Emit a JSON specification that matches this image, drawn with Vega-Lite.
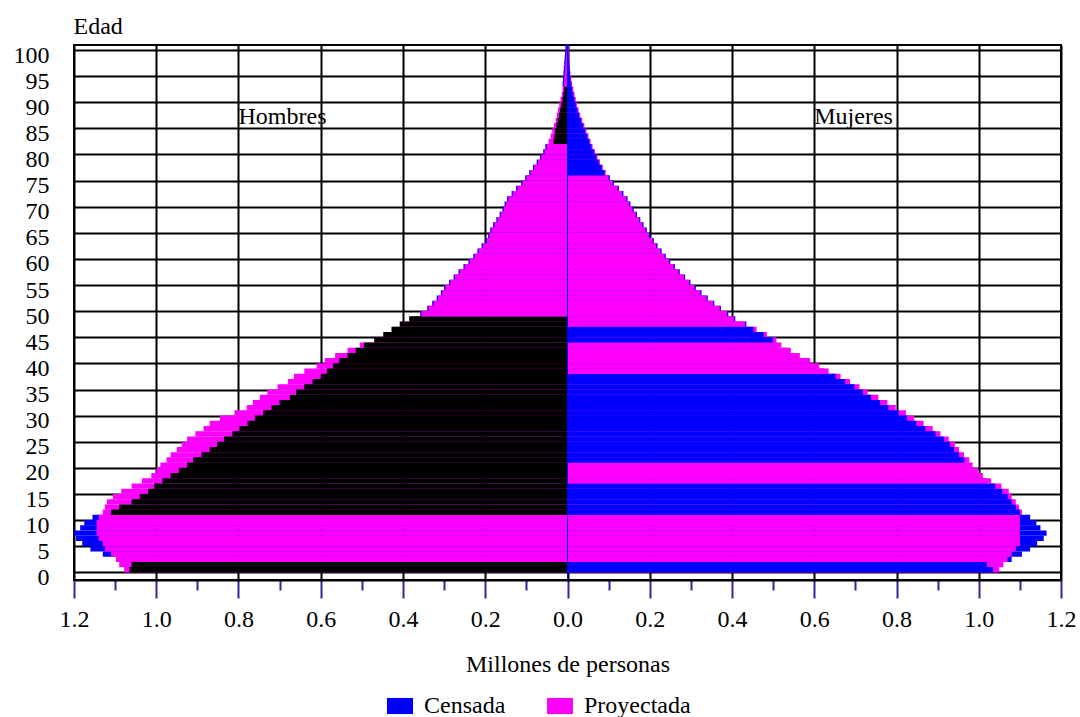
{
"$schema": "https://vega.github.io/schema/vega-lite/v6.json",
"autosize": "none",
"padding": {"left": 74, "top": 45, "right": 19, "bottom": 137},
"width": 987,
"height": 535,
"background": "white",
"config": {"view": {"stroke": "black", "strokeWidth": 2}, "font": "Liberation Serif",
 "axis": {"labelFont": "Liberation Serif", "titleFont": "Liberation Serif", "labelOverlap": false},
 "legend": {"labelFont": "Liberation Serif"}},
"layer": [
{
"data": {"values": [
{"edad":0,"sexo":"Hombres","serie":"Proyectada","valor":-1.078,"frente":0},{"edad":0,"sexo":"Hombres","serie":"Censada","valor":-1.065,"frente":1},
{"edad":1,"sexo":"Hombres","serie":"Proyectada","valor":-1.09,"frente":0},{"edad":1,"sexo":"Hombres","serie":"Censada","valor":-1.06,"frente":1},
{"edad":2,"sexo":"Hombres","serie":"Censada","valor":-1.09,"frente":0},{"edad":2,"sexo":"Hombres","serie":"Proyectada","valor":-1.098,"frente":1},
{"edad":3,"sexo":"Hombres","serie":"Censada","valor":-1.13,"frente":0},{"edad":3,"sexo":"Hombres","serie":"Proyectada","valor":-1.11,"frente":1},
{"edad":4,"sexo":"Hombres","serie":"Censada","valor":-1.16,"frente":0},{"edad":4,"sexo":"Hombres","serie":"Proyectada","valor":-1.125,"frente":1},
{"edad":5,"sexo":"Hombres","serie":"Censada","valor":-1.18,"frente":0},{"edad":5,"sexo":"Hombres","serie":"Proyectada","valor":-1.13,"frente":1},
{"edad":6,"sexo":"Hombres","serie":"Censada","valor":-1.195,"frente":0},{"edad":6,"sexo":"Hombres","serie":"Proyectada","valor":-1.14,"frente":1},
{"edad":7,"sexo":"Hombres","serie":"Censada","valor":-1.2,"frente":0},{"edad":7,"sexo":"Hombres","serie":"Proyectada","valor":-1.145,"frente":1},
{"edad":8,"sexo":"Hombres","serie":"Censada","valor":-1.185,"frente":0},{"edad":8,"sexo":"Hombres","serie":"Proyectada","valor":-1.145,"frente":1},
{"edad":9,"sexo":"Hombres","serie":"Censada","valor":-1.175,"frente":0},{"edad":9,"sexo":"Hombres","serie":"Proyectada","valor":-1.145,"frente":1},
{"edad":10,"sexo":"Hombres","serie":"Censada","valor":-1.155,"frente":0},{"edad":10,"sexo":"Hombres","serie":"Proyectada","valor":-1.14,"frente":1},
{"edad":11,"sexo":"Hombres","serie":"Proyectada","valor":-1.13,"frente":0},{"edad":11,"sexo":"Hombres","serie":"Censada","valor":-1.11,"frente":1},
{"edad":12,"sexo":"Hombres","serie":"Proyectada","valor":-1.125,"frente":0},{"edad":12,"sexo":"Hombres","serie":"Censada","valor":-1.09,"frente":1},
{"edad":13,"sexo":"Hombres","serie":"Proyectada","valor":-1.12,"frente":0},{"edad":13,"sexo":"Hombres","serie":"Censada","valor":-1.06,"frente":1},
{"edad":14,"sexo":"Hombres","serie":"Proyectada","valor":-1.105,"frente":0},{"edad":14,"sexo":"Hombres","serie":"Censada","valor":-1.04,"frente":1},
{"edad":15,"sexo":"Hombres","serie":"Proyectada","valor":-1.085,"frente":0},{"edad":15,"sexo":"Hombres","serie":"Censada","valor":-1.02,"frente":1},
{"edad":16,"sexo":"Hombres","serie":"Proyectada","valor":-1.06,"frente":0},{"edad":16,"sexo":"Hombres","serie":"Censada","valor":-1.005,"frente":1},
{"edad":17,"sexo":"Hombres","serie":"Proyectada","valor":-1.035,"frente":0},{"edad":17,"sexo":"Hombres","serie":"Censada","valor":-0.985,"frente":1},
{"edad":18,"sexo":"Hombres","serie":"Proyectada","valor":-1.012,"frente":0},{"edad":18,"sexo":"Hombres","serie":"Censada","valor":-0.965,"frente":1},
{"edad":19,"sexo":"Hombres","serie":"Proyectada","valor":-1.0,"frente":0},{"edad":19,"sexo":"Hombres","serie":"Censada","valor":-0.945,"frente":1},
{"edad":20,"sexo":"Hombres","serie":"Proyectada","valor":-0.99,"frente":0},{"edad":20,"sexo":"Hombres","serie":"Censada","valor":-0.925,"frente":1},
{"edad":21,"sexo":"Hombres","serie":"Proyectada","valor":-0.975,"frente":0},{"edad":21,"sexo":"Hombres","serie":"Censada","valor":-0.91,"frente":1},
{"edad":22,"sexo":"Hombres","serie":"Proyectada","valor":-0.965,"frente":0},{"edad":22,"sexo":"Hombres","serie":"Censada","valor":-0.89,"frente":1},
{"edad":23,"sexo":"Hombres","serie":"Proyectada","valor":-0.95,"frente":0},{"edad":23,"sexo":"Hombres","serie":"Censada","valor":-0.87,"frente":1},
{"edad":24,"sexo":"Hombres","serie":"Proyectada","valor":-0.938,"frente":0},{"edad":24,"sexo":"Hombres","serie":"Censada","valor":-0.852,"frente":1},
{"edad":25,"sexo":"Hombres","serie":"Proyectada","valor":-0.925,"frente":0},{"edad":25,"sexo":"Hombres","serie":"Censada","valor":-0.835,"frente":1},
{"edad":26,"sexo":"Hombres","serie":"Proyectada","valor":-0.905,"frente":0},{"edad":26,"sexo":"Hombres","serie":"Censada","valor":-0.815,"frente":1},
{"edad":27,"sexo":"Hombres","serie":"Proyectada","valor":-0.885,"frente":0},{"edad":27,"sexo":"Hombres","serie":"Censada","valor":-0.798,"frente":1},
{"edad":28,"sexo":"Hombres","serie":"Proyectada","valor":-0.87,"frente":0},{"edad":28,"sexo":"Hombres","serie":"Censada","valor":-0.778,"frente":1},
{"edad":29,"sexo":"Hombres","serie":"Proyectada","valor":-0.845,"frente":0},{"edad":29,"sexo":"Hombres","serie":"Censada","valor":-0.76,"frente":1},
{"edad":30,"sexo":"Hombres","serie":"Proyectada","valor":-0.81,"frente":0},{"edad":30,"sexo":"Hombres","serie":"Censada","valor":-0.74,"frente":1},
{"edad":31,"sexo":"Hombres","serie":"Proyectada","valor":-0.78,"frente":0},{"edad":31,"sexo":"Hombres","serie":"Censada","valor":-0.72,"frente":1},
{"edad":32,"sexo":"Hombres","serie":"Proyectada","valor":-0.765,"frente":0},{"edad":32,"sexo":"Hombres","serie":"Censada","valor":-0.7,"frente":1},
{"edad":33,"sexo":"Hombres","serie":"Proyectada","valor":-0.748,"frente":0},{"edad":33,"sexo":"Hombres","serie":"Censada","valor":-0.675,"frente":1},
{"edad":34,"sexo":"Hombres","serie":"Proyectada","valor":-0.73,"frente":0},{"edad":34,"sexo":"Hombres","serie":"Censada","valor":-0.66,"frente":1},
{"edad":35,"sexo":"Hombres","serie":"Proyectada","valor":-0.705,"frente":0},{"edad":35,"sexo":"Hombres","serie":"Censada","valor":-0.64,"frente":1},
{"edad":36,"sexo":"Hombres","serie":"Proyectada","valor":-0.68,"frente":0},{"edad":36,"sexo":"Hombres","serie":"Censada","valor":-0.62,"frente":1},
{"edad":37,"sexo":"Hombres","serie":"Proyectada","valor":-0.665,"frente":0},{"edad":37,"sexo":"Hombres","serie":"Censada","valor":-0.6,"frente":1},
{"edad":38,"sexo":"Hombres","serie":"Proyectada","valor":-0.64,"frente":0},{"edad":38,"sexo":"Hombres","serie":"Censada","valor":-0.585,"frente":1},
{"edad":39,"sexo":"Hombres","serie":"Proyectada","valor":-0.61,"frente":0},{"edad":39,"sexo":"Hombres","serie":"Censada","valor":-0.57,"frente":1},
{"edad":40,"sexo":"Hombres","serie":"Proyectada","valor":-0.59,"frente":0},{"edad":40,"sexo":"Hombres","serie":"Censada","valor":-0.555,"frente":1},
{"edad":41,"sexo":"Hombres","serie":"Proyectada","valor":-0.565,"frente":0},{"edad":41,"sexo":"Hombres","serie":"Censada","valor":-0.535,"frente":1},
{"edad":42,"sexo":"Hombres","serie":"Proyectada","valor":-0.535,"frente":0},{"edad":42,"sexo":"Hombres","serie":"Censada","valor":-0.515,"frente":1},
{"edad":43,"sexo":"Hombres","serie":"Proyectada","valor":-0.505,"frente":0},{"edad":43,"sexo":"Hombres","serie":"Censada","valor":-0.495,"frente":1},
{"edad":44,"sexo":"Hombres","serie":"Proyectada","valor":-0.468,"frente":0},{"edad":44,"sexo":"Hombres","serie":"Censada","valor":-0.47,"frente":1},
{"edad":45,"sexo":"Hombres","serie":"Proyectada","valor":-0.445,"frente":0},{"edad":45,"sexo":"Hombres","serie":"Censada","valor":-0.448,"frente":1},
{"edad":46,"sexo":"Hombres","serie":"Proyectada","valor":-0.424,"frente":0},{"edad":46,"sexo":"Hombres","serie":"Censada","valor":-0.428,"frente":1},
{"edad":47,"sexo":"Hombres","serie":"Proyectada","valor":-0.404,"frente":0},{"edad":47,"sexo":"Hombres","serie":"Censada","valor":-0.408,"frente":1},
{"edad":48,"sexo":"Hombres","serie":"Proyectada","valor":-0.38,"frente":0},{"edad":48,"sexo":"Hombres","serie":"Censada","valor":-0.385,"frente":1},
{"edad":49,"sexo":"Hombres","serie":"Censada","valor":-0.358,"frente":0},{"edad":49,"sexo":"Hombres","serie":"Proyectada","valor":-0.355,"frente":1},
{"edad":50,"sexo":"Hombres","serie":"Censada","valor":-0.341,"frente":0},{"edad":50,"sexo":"Hombres","serie":"Proyectada","valor":-0.338,"frente":1},
{"edad":51,"sexo":"Hombres","serie":"Censada","valor":-0.329,"frente":0},{"edad":51,"sexo":"Hombres","serie":"Proyectada","valor":-0.326,"frente":1},
{"edad":52,"sexo":"Hombres","serie":"Censada","valor":-0.318,"frente":0},{"edad":52,"sexo":"Hombres","serie":"Proyectada","valor":-0.315,"frente":1},
{"edad":53,"sexo":"Hombres","serie":"Censada","valor":-0.308,"frente":0},{"edad":53,"sexo":"Hombres","serie":"Proyectada","valor":-0.305,"frente":1},
{"edad":54,"sexo":"Hombres","serie":"Censada","valor":-0.3,"frente":0},{"edad":54,"sexo":"Hombres","serie":"Proyectada","valor":-0.297,"frente":1},
{"edad":55,"sexo":"Hombres","serie":"Censada","valor":-0.288,"frente":0},{"edad":55,"sexo":"Hombres","serie":"Proyectada","valor":-0.285,"frente":1},
{"edad":56,"sexo":"Hombres","serie":"Censada","valor":-0.277,"frente":0},{"edad":56,"sexo":"Hombres","serie":"Proyectada","valor":-0.274,"frente":1},
{"edad":57,"sexo":"Hombres","serie":"Censada","valor":-0.265,"frente":0},{"edad":57,"sexo":"Hombres","serie":"Proyectada","valor":-0.262,"frente":1},
{"edad":58,"sexo":"Hombres","serie":"Censada","valor":-0.253,"frente":0},{"edad":58,"sexo":"Hombres","serie":"Proyectada","valor":-0.25,"frente":1},
{"edad":59,"sexo":"Hombres","serie":"Censada","valor":-0.241,"frente":0},{"edad":59,"sexo":"Hombres","serie":"Proyectada","valor":-0.238,"frente":1},
{"edad":60,"sexo":"Hombres","serie":"Censada","valor":-0.229,"frente":0},{"edad":60,"sexo":"Hombres","serie":"Proyectada","valor":-0.226,"frente":1},
{"edad":61,"sexo":"Hombres","serie":"Censada","valor":-0.219,"frente":0},{"edad":61,"sexo":"Hombres","serie":"Proyectada","valor":-0.216,"frente":1},
{"edad":62,"sexo":"Hombres","serie":"Censada","valor":-0.209,"frente":0},{"edad":62,"sexo":"Hombres","serie":"Proyectada","valor":-0.206,"frente":1},
{"edad":63,"sexo":"Hombres","serie":"Censada","valor":-0.199,"frente":0},{"edad":63,"sexo":"Hombres","serie":"Proyectada","valor":-0.196,"frente":1},
{"edad":64,"sexo":"Hombres","serie":"Censada","valor":-0.193,"frente":0},{"edad":64,"sexo":"Hombres","serie":"Proyectada","valor":-0.19,"frente":1},
{"edad":65,"sexo":"Hombres","serie":"Censada","valor":-0.188,"frente":0},{"edad":65,"sexo":"Hombres","serie":"Proyectada","valor":-0.185,"frente":1},
{"edad":66,"sexo":"Hombres","serie":"Censada","valor":-0.181,"frente":0},{"edad":66,"sexo":"Hombres","serie":"Proyectada","valor":-0.178,"frente":1},
{"edad":67,"sexo":"Hombres","serie":"Censada","valor":-0.173,"frente":0},{"edad":67,"sexo":"Hombres","serie":"Proyectada","valor":-0.17,"frente":1},
{"edad":68,"sexo":"Hombres","serie":"Censada","valor":-0.165,"frente":0},{"edad":68,"sexo":"Hombres","serie":"Proyectada","valor":-0.162,"frente":1},
{"edad":69,"sexo":"Hombres","serie":"Censada","valor":-0.158,"frente":0},{"edad":69,"sexo":"Hombres","serie":"Proyectada","valor":-0.155,"frente":1},
{"edad":70,"sexo":"Hombres","serie":"Censada","valor":-0.153,"frente":0},{"edad":70,"sexo":"Hombres","serie":"Proyectada","valor":-0.15,"frente":1},
{"edad":71,"sexo":"Hombres","serie":"Censada","valor":-0.147,"frente":0},{"edad":71,"sexo":"Hombres","serie":"Proyectada","valor":-0.144,"frente":1},
{"edad":72,"sexo":"Hombres","serie":"Censada","valor":-0.136,"frente":0},{"edad":72,"sexo":"Hombres","serie":"Proyectada","valor":-0.133,"frente":1},
{"edad":73,"sexo":"Hombres","serie":"Censada","valor":-0.125,"frente":0},{"edad":73,"sexo":"Hombres","serie":"Proyectada","valor":-0.122,"frente":1},
{"edad":74,"sexo":"Hombres","serie":"Censada","valor":-0.113,"frente":0},{"edad":74,"sexo":"Hombres","serie":"Proyectada","valor":-0.11,"frente":1},
{"edad":75,"sexo":"Hombres","serie":"Censada","valor":-0.103,"frente":0},{"edad":75,"sexo":"Hombres","serie":"Proyectada","valor":-0.1,"frente":1},
{"edad":76,"sexo":"Hombres","serie":"Censada","valor":-0.093,"frente":0},{"edad":76,"sexo":"Hombres","serie":"Proyectada","valor":-0.09,"frente":1},
{"edad":77,"sexo":"Hombres","serie":"Censada","valor":-0.084,"frente":0},{"edad":77,"sexo":"Hombres","serie":"Proyectada","valor":-0.081,"frente":1},
{"edad":78,"sexo":"Hombres","serie":"Censada","valor":-0.075,"frente":0},{"edad":78,"sexo":"Hombres","serie":"Proyectada","valor":-0.072,"frente":1},
{"edad":79,"sexo":"Hombres","serie":"Censada","valor":-0.067,"frente":0},{"edad":79,"sexo":"Hombres","serie":"Proyectada","valor":-0.064,"frente":1},
{"edad":80,"sexo":"Hombres","serie":"Censada","valor":-0.059,"frente":0},{"edad":80,"sexo":"Hombres","serie":"Proyectada","valor":-0.056,"frente":1},
{"edad":81,"sexo":"Hombres","serie":"Censada","valor":-0.054,"frente":0},{"edad":81,"sexo":"Hombres","serie":"Proyectada","valor":-0.051,"frente":1},
{"edad":82,"sexo":"Hombres","serie":"Proyectada","valor":-0.046,"frente":0},{"edad":82,"sexo":"Hombres","serie":"Censada","valor":-0.034,"frente":1},
{"edad":83,"sexo":"Hombres","serie":"Proyectada","valor":-0.041,"frente":0},{"edad":83,"sexo":"Hombres","serie":"Censada","valor":-0.032,"frente":1},
{"edad":84,"sexo":"Hombres","serie":"Proyectada","valor":-0.037,"frente":0},{"edad":84,"sexo":"Hombres","serie":"Censada","valor":-0.03,"frente":1},
{"edad":85,"sexo":"Hombres","serie":"Proyectada","valor":-0.033,"frente":0},{"edad":85,"sexo":"Hombres","serie":"Censada","valor":-0.027,"frente":1},
{"edad":86,"sexo":"Hombres","serie":"Proyectada","valor":-0.029,"frente":0},{"edad":86,"sexo":"Hombres","serie":"Censada","valor":-0.024,"frente":1},
{"edad":87,"sexo":"Hombres","serie":"Proyectada","valor":-0.026,"frente":0},{"edad":87,"sexo":"Hombres","serie":"Censada","valor":-0.021,"frente":1},
{"edad":88,"sexo":"Hombres","serie":"Proyectada","valor":-0.023,"frente":0},{"edad":88,"sexo":"Hombres","serie":"Censada","valor":-0.018,"frente":1},
{"edad":89,"sexo":"Hombres","serie":"Proyectada","valor":-0.02,"frente":0},{"edad":89,"sexo":"Hombres","serie":"Censada","valor":-0.015,"frente":1},
{"edad":90,"sexo":"Hombres","serie":"Proyectada","valor":-0.017,"frente":0},{"edad":90,"sexo":"Hombres","serie":"Censada","valor":-0.012,"frente":1},
{"edad":91,"sexo":"Hombres","serie":"Proyectada","valor":-0.014,"frente":0},{"edad":91,"sexo":"Hombres","serie":"Censada","valor":-0.01,"frente":1},
{"edad":92,"sexo":"Hombres","serie":"Proyectada","valor":-0.012,"frente":0},{"edad":92,"sexo":"Hombres","serie":"Censada","valor":-0.008,"frente":1},
{"edad":93,"sexo":"Hombres","serie":"Censada","valor":-0.012,"frente":0},{"edad":93,"sexo":"Hombres","serie":"Proyectada","valor":-0.009,"frente":1},
{"edad":94,"sexo":"Hombres","serie":"Censada","valor":-0.011,"frente":0},{"edad":94,"sexo":"Hombres","serie":"Proyectada","valor":-0.008,"frente":1},
{"edad":95,"sexo":"Hombres","serie":"Censada","valor":-0.01,"frente":0},{"edad":95,"sexo":"Hombres","serie":"Proyectada","valor":-0.007,"frente":1},
{"edad":96,"sexo":"Hombres","serie":"Censada","valor":-0.009,"frente":0},{"edad":96,"sexo":"Hombres","serie":"Proyectada","valor":-0.006,"frente":1},
{"edad":97,"sexo":"Hombres","serie":"Censada","valor":-0.008,"frente":0},{"edad":97,"sexo":"Hombres","serie":"Proyectada","valor":-0.005,"frente":1},
{"edad":98,"sexo":"Hombres","serie":"Censada","valor":-0.007,"frente":0},{"edad":98,"sexo":"Hombres","serie":"Proyectada","valor":-0.004,"frente":1},
{"edad":99,"sexo":"Hombres","serie":"Censada","valor":-0.006,"frente":0},{"edad":99,"sexo":"Hombres","serie":"Proyectada","valor":-0.003,"frente":1},
{"edad":100,"sexo":"Hombres","serie":"Censada","valor":-0.005,"frente":0},{"edad":100,"sexo":"Hombres","serie":"Proyectada","valor":-0.002,"frente":1},
{"edad":0,"sexo":"Mujeres","serie":"Proyectada","valor":1.05,"frente":0},{"edad":0,"sexo":"Mujeres","serie":"Censada","valor":1.035,"frente":1},
{"edad":1,"sexo":"Mujeres","serie":"Proyectada","valor":1.06,"frente":0},{"edad":1,"sexo":"Mujeres","serie":"Censada","valor":1.02,"frente":1},
{"edad":2,"sexo":"Mujeres","serie":"Censada","valor":1.08,"frente":0},{"edad":2,"sexo":"Mujeres","serie":"Proyectada","valor":1.07,"frente":1},
{"edad":3,"sexo":"Mujeres","serie":"Censada","valor":1.105,"frente":0},{"edad":3,"sexo":"Mujeres","serie":"Proyectada","valor":1.08,"frente":1},
{"edad":4,"sexo":"Mujeres","serie":"Censada","valor":1.125,"frente":0},{"edad":4,"sexo":"Mujeres","serie":"Proyectada","valor":1.09,"frente":1},
{"edad":5,"sexo":"Mujeres","serie":"Censada","valor":1.142,"frente":0},{"edad":5,"sexo":"Mujeres","serie":"Proyectada","valor":1.1,"frente":1},
{"edad":6,"sexo":"Mujeres","serie":"Censada","valor":1.158,"frente":0},{"edad":6,"sexo":"Mujeres","serie":"Proyectada","valor":1.1,"frente":1},
{"edad":7,"sexo":"Mujeres","serie":"Censada","valor":1.165,"frente":0},{"edad":7,"sexo":"Mujeres","serie":"Proyectada","valor":1.1,"frente":1},
{"edad":8,"sexo":"Mujeres","serie":"Censada","valor":1.15,"frente":0},{"edad":8,"sexo":"Mujeres","serie":"Proyectada","valor":1.1,"frente":1},
{"edad":9,"sexo":"Mujeres","serie":"Censada","valor":1.14,"frente":0},{"edad":9,"sexo":"Mujeres","serie":"Proyectada","valor":1.1,"frente":1},
{"edad":10,"sexo":"Mujeres","serie":"Censada","valor":1.125,"frente":0},{"edad":10,"sexo":"Mujeres","serie":"Proyectada","valor":1.1,"frente":1},
{"edad":11,"sexo":"Mujeres","serie":"Proyectada","valor":1.105,"frente":0},{"edad":11,"sexo":"Mujeres","serie":"Censada","valor":1.1,"frente":1},
{"edad":12,"sexo":"Mujeres","serie":"Proyectada","valor":1.098,"frente":0},{"edad":12,"sexo":"Mujeres","serie":"Censada","valor":1.09,"frente":1},
{"edad":13,"sexo":"Mujeres","serie":"Proyectada","valor":1.09,"frente":0},{"edad":13,"sexo":"Mujeres","serie":"Censada","valor":1.08,"frente":1},
{"edad":14,"sexo":"Mujeres","serie":"Proyectada","valor":1.08,"frente":0},{"edad":14,"sexo":"Mujeres","serie":"Censada","valor":1.07,"frente":1},
{"edad":15,"sexo":"Mujeres","serie":"Proyectada","valor":1.073,"frente":0},{"edad":15,"sexo":"Mujeres","serie":"Censada","valor":1.057,"frente":1},
{"edad":16,"sexo":"Mujeres","serie":"Proyectada","valor":1.055,"frente":0},{"edad":16,"sexo":"Mujeres","serie":"Censada","valor":1.04,"frente":1},
{"edad":17,"sexo":"Mujeres","serie":"Censada","valor":1.02,"frente":0},{"edad":17,"sexo":"Mujeres","serie":"Proyectada","valor":1.03,"frente":1},
{"edad":18,"sexo":"Mujeres","serie":"Censada","valor":1.0,"frente":0},{"edad":18,"sexo":"Mujeres","serie":"Proyectada","valor":1.01,"frente":1},
{"edad":19,"sexo":"Mujeres","serie":"Censada","valor":0.99,"frente":0},{"edad":19,"sexo":"Mujeres","serie":"Proyectada","valor":0.998,"frente":1},
{"edad":20,"sexo":"Mujeres","serie":"Censada","valor":0.975,"frente":0},{"edad":20,"sexo":"Mujeres","serie":"Proyectada","valor":0.985,"frente":1},
{"edad":21,"sexo":"Mujeres","serie":"Proyectada","valor":0.977,"frente":0},{"edad":21,"sexo":"Mujeres","serie":"Censada","valor":0.965,"frente":1},
{"edad":22,"sexo":"Mujeres","serie":"Proyectada","valor":0.964,"frente":0},{"edad":22,"sexo":"Mujeres","serie":"Censada","valor":0.952,"frente":1},
{"edad":23,"sexo":"Mujeres","serie":"Proyectada","valor":0.952,"frente":0},{"edad":23,"sexo":"Mujeres","serie":"Censada","valor":0.94,"frente":1},
{"edad":24,"sexo":"Mujeres","serie":"Proyectada","valor":0.942,"frente":0},{"edad":24,"sexo":"Mujeres","serie":"Censada","valor":0.93,"frente":1},
{"edad":25,"sexo":"Mujeres","serie":"Proyectada","valor":0.927,"frente":0},{"edad":25,"sexo":"Mujeres","serie":"Censada","valor":0.915,"frente":1},
{"edad":26,"sexo":"Mujeres","serie":"Proyectada","valor":0.907,"frente":0},{"edad":26,"sexo":"Mujeres","serie":"Censada","valor":0.895,"frente":1},
{"edad":27,"sexo":"Mujeres","serie":"Proyectada","valor":0.888,"frente":0},{"edad":27,"sexo":"Mujeres","serie":"Censada","valor":0.87,"frente":1},
{"edad":28,"sexo":"Mujeres","serie":"Proyectada","valor":0.866,"frente":0},{"edad":28,"sexo":"Mujeres","serie":"Censada","valor":0.848,"frente":1},
{"edad":29,"sexo":"Mujeres","serie":"Proyectada","valor":0.843,"frente":0},{"edad":29,"sexo":"Mujeres","serie":"Censada","valor":0.825,"frente":1},
{"edad":30,"sexo":"Mujeres","serie":"Proyectada","valor":0.823,"frente":0},{"edad":30,"sexo":"Mujeres","serie":"Censada","valor":0.805,"frente":1},
{"edad":31,"sexo":"Mujeres","serie":"Proyectada","valor":0.798,"frente":0},{"edad":31,"sexo":"Mujeres","serie":"Censada","valor":0.78,"frente":1},
{"edad":32,"sexo":"Mujeres","serie":"Proyectada","valor":0.778,"frente":0},{"edad":32,"sexo":"Mujeres","serie":"Censada","valor":0.76,"frente":1},
{"edad":33,"sexo":"Mujeres","serie":"Proyectada","valor":0.756,"frente":0},{"edad":33,"sexo":"Mujeres","serie":"Censada","valor":0.738,"frente":1},
{"edad":34,"sexo":"Mujeres","serie":"Proyectada","valor":0.73,"frente":0},{"edad":34,"sexo":"Mujeres","serie":"Censada","valor":0.718,"frente":1},
{"edad":35,"sexo":"Mujeres","serie":"Proyectada","valor":0.71,"frente":0},{"edad":35,"sexo":"Mujeres","serie":"Censada","valor":0.698,"frente":1},
{"edad":36,"sexo":"Mujeres","serie":"Proyectada","valor":0.687,"frente":0},{"edad":36,"sexo":"Mujeres","serie":"Censada","valor":0.675,"frente":1},
{"edad":37,"sexo":"Mujeres","serie":"Proyectada","valor":0.664,"frente":0},{"edad":37,"sexo":"Mujeres","serie":"Censada","valor":0.652,"frente":1},
{"edad":38,"sexo":"Mujeres","serie":"Censada","valor":0.625,"frente":0},{"edad":38,"sexo":"Mujeres","serie":"Proyectada","valor":0.635,"frente":1},
{"edad":39,"sexo":"Mujeres","serie":"Censada","valor":0.602,"frente":0},{"edad":39,"sexo":"Mujeres","serie":"Proyectada","valor":0.612,"frente":1},
{"edad":40,"sexo":"Mujeres","serie":"Censada","valor":0.58,"frente":0},{"edad":40,"sexo":"Mujeres","serie":"Proyectada","valor":0.59,"frente":1},
{"edad":41,"sexo":"Mujeres","serie":"Censada","valor":0.555,"frente":0},{"edad":41,"sexo":"Mujeres","serie":"Proyectada","valor":0.565,"frente":1},
{"edad":42,"sexo":"Mujeres","serie":"Censada","valor":0.533,"frente":0},{"edad":42,"sexo":"Mujeres","serie":"Proyectada","valor":0.543,"frente":1},
{"edad":43,"sexo":"Mujeres","serie":"Censada","valor":0.51,"frente":0},{"edad":43,"sexo":"Mujeres","serie":"Proyectada","valor":0.52,"frente":1},
{"edad":44,"sexo":"Mujeres","serie":"Proyectada","valor":0.508,"frente":0},{"edad":44,"sexo":"Mujeres","serie":"Censada","valor":0.5,"frente":1},
{"edad":45,"sexo":"Mujeres","serie":"Proyectada","valor":0.485,"frente":0},{"edad":45,"sexo":"Mujeres","serie":"Censada","valor":0.477,"frente":1},
{"edad":46,"sexo":"Mujeres","serie":"Proyectada","valor":0.46,"frente":0},{"edad":46,"sexo":"Mujeres","serie":"Censada","valor":0.452,"frente":1},
{"edad":47,"sexo":"Mujeres","serie":"Censada","valor":0.435,"frente":0},{"edad":47,"sexo":"Mujeres","serie":"Proyectada","valor":0.432,"frente":1},
{"edad":48,"sexo":"Mujeres","serie":"Censada","valor":0.408,"frente":0},{"edad":48,"sexo":"Mujeres","serie":"Proyectada","valor":0.405,"frente":1},
{"edad":49,"sexo":"Mujeres","serie":"Censada","valor":0.391,"frente":0},{"edad":49,"sexo":"Mujeres","serie":"Proyectada","valor":0.388,"frente":1},
{"edad":50,"sexo":"Mujeres","serie":"Censada","valor":0.373,"frente":0},{"edad":50,"sexo":"Mujeres","serie":"Proyectada","valor":0.37,"frente":1},
{"edad":51,"sexo":"Mujeres","serie":"Censada","valor":0.357,"frente":0},{"edad":51,"sexo":"Mujeres","serie":"Proyectada","valor":0.354,"frente":1},
{"edad":52,"sexo":"Mujeres","serie":"Censada","valor":0.341,"frente":0},{"edad":52,"sexo":"Mujeres","serie":"Proyectada","valor":0.338,"frente":1},
{"edad":53,"sexo":"Mujeres","serie":"Censada","valor":0.326,"frente":0},{"edad":53,"sexo":"Mujeres","serie":"Proyectada","valor":0.323,"frente":1},
{"edad":54,"sexo":"Mujeres","serie":"Censada","valor":0.312,"frente":0},{"edad":54,"sexo":"Mujeres","serie":"Proyectada","valor":0.309,"frente":1},
{"edad":55,"sexo":"Mujeres","serie":"Censada","valor":0.299,"frente":0},{"edad":55,"sexo":"Mujeres","serie":"Proyectada","valor":0.296,"frente":1},
{"edad":56,"sexo":"Mujeres","serie":"Censada","valor":0.286,"frente":0},{"edad":56,"sexo":"Mujeres","serie":"Proyectada","valor":0.283,"frente":1},
{"edad":57,"sexo":"Mujeres","serie":"Censada","valor":0.273,"frente":0},{"edad":57,"sexo":"Mujeres","serie":"Proyectada","valor":0.27,"frente":1},
{"edad":58,"sexo":"Mujeres","serie":"Censada","valor":0.261,"frente":0},{"edad":58,"sexo":"Mujeres","serie":"Proyectada","valor":0.258,"frente":1},
{"edad":59,"sexo":"Mujeres","serie":"Censada","valor":0.25,"frente":0},{"edad":59,"sexo":"Mujeres","serie":"Proyectada","valor":0.247,"frente":1},
{"edad":60,"sexo":"Mujeres","serie":"Censada","valor":0.239,"frente":0},{"edad":60,"sexo":"Mujeres","serie":"Proyectada","valor":0.236,"frente":1},
{"edad":61,"sexo":"Mujeres","serie":"Censada","valor":0.229,"frente":0},{"edad":61,"sexo":"Mujeres","serie":"Proyectada","valor":0.226,"frente":1},
{"edad":62,"sexo":"Mujeres","serie":"Censada","valor":0.219,"frente":0},{"edad":62,"sexo":"Mujeres","serie":"Proyectada","valor":0.216,"frente":1},
{"edad":63,"sexo":"Mujeres","serie":"Censada","valor":0.21,"frente":0},{"edad":63,"sexo":"Mujeres","serie":"Proyectada","valor":0.207,"frente":1},
{"edad":64,"sexo":"Mujeres","serie":"Censada","valor":0.201,"frente":0},{"edad":64,"sexo":"Mujeres","serie":"Proyectada","valor":0.198,"frente":1},
{"edad":65,"sexo":"Mujeres","serie":"Censada","valor":0.193,"frente":0},{"edad":65,"sexo":"Mujeres","serie":"Proyectada","valor":0.19,"frente":1},
{"edad":66,"sexo":"Mujeres","serie":"Censada","valor":0.185,"frente":0},{"edad":66,"sexo":"Mujeres","serie":"Proyectada","valor":0.182,"frente":1},
{"edad":67,"sexo":"Mujeres","serie":"Censada","valor":0.177,"frente":0},{"edad":67,"sexo":"Mujeres","serie":"Proyectada","valor":0.174,"frente":1},
{"edad":68,"sexo":"Mujeres","serie":"Censada","valor":0.169,"frente":0},{"edad":68,"sexo":"Mujeres","serie":"Proyectada","valor":0.166,"frente":1},
{"edad":69,"sexo":"Mujeres","serie":"Censada","valor":0.161,"frente":0},{"edad":69,"sexo":"Mujeres","serie":"Proyectada","valor":0.158,"frente":1},
{"edad":70,"sexo":"Mujeres","serie":"Censada","valor":0.153,"frente":0},{"edad":70,"sexo":"Mujeres","serie":"Proyectada","valor":0.15,"frente":1},
{"edad":71,"sexo":"Mujeres","serie":"Censada","valor":0.146,"frente":0},{"edad":71,"sexo":"Mujeres","serie":"Proyectada","valor":0.143,"frente":1},
{"edad":72,"sexo":"Mujeres","serie":"Censada","valor":0.136,"frente":0},{"edad":72,"sexo":"Mujeres","serie":"Proyectada","valor":0.133,"frente":1},
{"edad":73,"sexo":"Mujeres","serie":"Censada","valor":0.125,"frente":0},{"edad":73,"sexo":"Mujeres","serie":"Proyectada","valor":0.122,"frente":1},
{"edad":74,"sexo":"Mujeres","serie":"Censada","valor":0.113,"frente":0},{"edad":74,"sexo":"Mujeres","serie":"Proyectada","valor":0.11,"frente":1},
{"edad":75,"sexo":"Mujeres","serie":"Censada","valor":0.103,"frente":0},{"edad":75,"sexo":"Mujeres","serie":"Proyectada","valor":0.1,"frente":1},
{"edad":76,"sexo":"Mujeres","serie":"Proyectada","valor":0.093,"frente":0},{"edad":76,"sexo":"Mujeres","serie":"Censada","valor":0.09,"frente":1},
{"edad":77,"sexo":"Mujeres","serie":"Proyectada","valor":0.086,"frente":0},{"edad":77,"sexo":"Mujeres","serie":"Censada","valor":0.083,"frente":1},
{"edad":78,"sexo":"Mujeres","serie":"Proyectada","valor":0.079,"frente":0},{"edad":78,"sexo":"Mujeres","serie":"Censada","valor":0.076,"frente":1},
{"edad":79,"sexo":"Mujeres","serie":"Proyectada","valor":0.073,"frente":0},{"edad":79,"sexo":"Mujeres","serie":"Censada","valor":0.07,"frente":1},
{"edad":80,"sexo":"Mujeres","serie":"Proyectada","valor":0.067,"frente":0},{"edad":80,"sexo":"Mujeres","serie":"Censada","valor":0.064,"frente":1},
{"edad":81,"sexo":"Mujeres","serie":"Proyectada","valor":0.061,"frente":0},{"edad":81,"sexo":"Mujeres","serie":"Censada","valor":0.058,"frente":1},
{"edad":82,"sexo":"Mujeres","serie":"Proyectada","valor":0.056,"frente":0},{"edad":82,"sexo":"Mujeres","serie":"Censada","valor":0.053,"frente":1},
{"edad":83,"sexo":"Mujeres","serie":"Proyectada","valor":0.051,"frente":0},{"edad":83,"sexo":"Mujeres","serie":"Censada","valor":0.048,"frente":1},
{"edad":84,"sexo":"Mujeres","serie":"Proyectada","valor":0.046,"frente":0},{"edad":84,"sexo":"Mujeres","serie":"Censada","valor":0.043,"frente":1},
{"edad":85,"sexo":"Mujeres","serie":"Proyectada","valor":0.041,"frente":0},{"edad":85,"sexo":"Mujeres","serie":"Censada","valor":0.038,"frente":1},
{"edad":86,"sexo":"Mujeres","serie":"Proyectada","valor":0.036,"frente":0},{"edad":86,"sexo":"Mujeres","serie":"Censada","valor":0.033,"frente":1},
{"edad":87,"sexo":"Mujeres","serie":"Proyectada","valor":0.031,"frente":0},{"edad":87,"sexo":"Mujeres","serie":"Censada","valor":0.028,"frente":1},
{"edad":88,"sexo":"Mujeres","serie":"Proyectada","valor":0.027,"frente":0},{"edad":88,"sexo":"Mujeres","serie":"Censada","valor":0.024,"frente":1},
{"edad":89,"sexo":"Mujeres","serie":"Proyectada","valor":0.023,"frente":0},{"edad":89,"sexo":"Mujeres","serie":"Censada","valor":0.02,"frente":1},
{"edad":90,"sexo":"Mujeres","serie":"Proyectada","valor":0.02,"frente":0},{"edad":90,"sexo":"Mujeres","serie":"Censada","valor":0.017,"frente":1},
{"edad":91,"sexo":"Mujeres","serie":"Proyectada","valor":0.017,"frente":0},{"edad":91,"sexo":"Mujeres","serie":"Censada","valor":0.014,"frente":1},
{"edad":92,"sexo":"Mujeres","serie":"Proyectada","valor":0.014,"frente":0},{"edad":92,"sexo":"Mujeres","serie":"Censada","valor":0.011,"frente":1},
{"edad":93,"sexo":"Mujeres","serie":"Proyectada","valor":0.011,"frente":0},{"edad":93,"sexo":"Mujeres","serie":"Censada","valor":0.009,"frente":1},
{"edad":94,"sexo":"Mujeres","serie":"Proyectada","valor":0.009,"frente":0},{"edad":94,"sexo":"Mujeres","serie":"Censada","valor":0.007,"frente":1},
{"edad":95,"sexo":"Mujeres","serie":"Proyectada","valor":0.007,"frente":0},{"edad":95,"sexo":"Mujeres","serie":"Censada","valor":0.006,"frente":1},
{"edad":96,"sexo":"Mujeres","serie":"Proyectada","valor":0.006,"frente":0},{"edad":96,"sexo":"Mujeres","serie":"Censada","valor":0.005,"frente":1},
{"edad":97,"sexo":"Mujeres","serie":"Proyectada","valor":0.005,"frente":0},{"edad":97,"sexo":"Mujeres","serie":"Censada","valor":0.004,"frente":1},
{"edad":98,"sexo":"Mujeres","serie":"Proyectada","valor":0.004,"frente":0},{"edad":98,"sexo":"Mujeres","serie":"Censada","valor":0.003,"frente":1},
{"edad":99,"sexo":"Mujeres","serie":"Proyectada","valor":0.003,"frente":0},{"edad":99,"sexo":"Mujeres","serie":"Censada","valor":0.002,"frente":1},
{"edad":100,"sexo":"Mujeres","serie":"Proyectada","valor":0.003,"frente":0},{"edad":100,"sexo":"Mujeres","serie":"Censada","valor":0.002,"frente":1}
]},
"mark": {"type": "bar", "orient": "horizontal", "height": 5.33, "yOffset": -2.66},
"encoding": {
"y": {"field": "edad", "type": "quantitative", "title": "Edad",
 "scale": {"domain": [-0.5, 100], "nice": false, "zero": false},
 "axis": {"values": [0,5,10,15,20,25,30,35,40,45,50,55,60,65,70,75,80,85,90,95,100], "tickCount": 40,
  "labelOverlap": false, "labelFlush": false, "labelBound": false,
  "title": "Edad", "titleAngle": 0, "titleAlign": "left", "titleBaseline": "alphabetic", "titleX": -1, "titleY": -12,
  "titleFont": "Liberation Serif", "titleFontSize": 24, "titleFontWeight": "normal", "titleColor": "black",
  "labelFont": "Liberation Serif", "labelFontSize": 24, "labelColor": "black", "labelBaseline": "middle", "labelOffset": 5, "labelPadding": 25,
  "ticks": false, "domain": false, "grid": true, "gridColor": "black", "gridWidth": 2, "gridOpacity": 1}},
"x": {"field": "valor", "type": "quantitative", "stack": null, "title": "Millones de personas",
 "scale": {"domain": [-1.2, 1.2], "nice": false, "zero": false},
 "axis": {"values": [-1.2,-1.1,-1.0,-0.9,-0.8,-0.7,-0.6,-0.5,-0.4,-0.3,-0.2,-0.1,0,0.1,0.2,0.3,0.4,0.5,0.6,0.7,0.8,0.9,1.0,1.1,1.2], "tickCount": 40,
  "labelExpr": "abs(round(datum.value*10))%2==0 ? format(abs(datum.value),'.1f') : ''",
  "labelOverlap": false, "labelFlush": false,
  "title": "Millones de personas", "titleFont": "Liberation Serif", "titleFontSize": 24, "titleFontWeight": "normal", "titleColor": "black", "titleBaseline": "alphabetic", "titleY": 91,
  "labelFont": "Liberation Serif", "labelFontSize": 24, "labelColor": "black", "labelBaseline": "alphabetic", "labelPadding": 28,
  "tickColor": "#2b2b9c", "tickWidth": 2,
  "tickSize": {"condition": {"test": "abs(round(datum.value*10))%2==0", "value": 18}, "value": 10},
  "grid": true, "gridColor": "black", "gridWidth": 2,
  "gridOpacity": {"condition": {"test": "abs(round(datum.value*10))%2==0", "value": 1}, "value": 0},
  "domainColor": "black", "domainWidth": 2}},
"color": {
 "condition": {"test": "datum.sexo === 'Hombres' && datum.serie === 'Censada' && datum.frente === 1", "value": "#000000"},
 "field": "serie", "type": "nominal",
 "scale": {"domain": ["Censada", "Proyectada"], "range": ["#0000ff", "#ff00ff"]},
 "legend": {"orient": "none", "legendX": 313, "legendY": 648, "direction": "horizontal", "title": null,
  "labelFont": "Liberation Serif", "labelFontSize": 24, "labelColor": "black",
  "symbolType": "M-1,-0.62H1V0.62H-1Z", "symbolSize": 676, "symbolStrokeWidth": 0, "symbolOpacity": 1,
  "labelOffset": 11, "columnPadding": 41, "padding": 0, "values": ["Censada", "Proyectada"]}},
"order": {"field": "frente", "type": "quantitative"}
}
},
{
"data": {"values": [{}]},
"mark": {"type": "rule", "color": "#0000ff", "strokeWidth": 1},
"encoding": {"x": {"datum": 0}}
},
{
"data": {"values": [{"valor": -0.8, "edad": 85.9, "texto": "Hombres"}, {"valor": 0.6, "edad": 85.9, "texto": "Mujeres"}]},
"mark": {"type": "text", "align": "left", "baseline": "alphabetic", "font": "Liberation Serif", "fontSize": 24, "color": "black"},
"encoding": {"x": {"field": "valor", "type": "quantitative", "title": "Millones de personas"}, "y": {"field": "edad", "type": "quantitative", "title": "Edad"}, "text": {"field": "texto"}}
}
]
}
